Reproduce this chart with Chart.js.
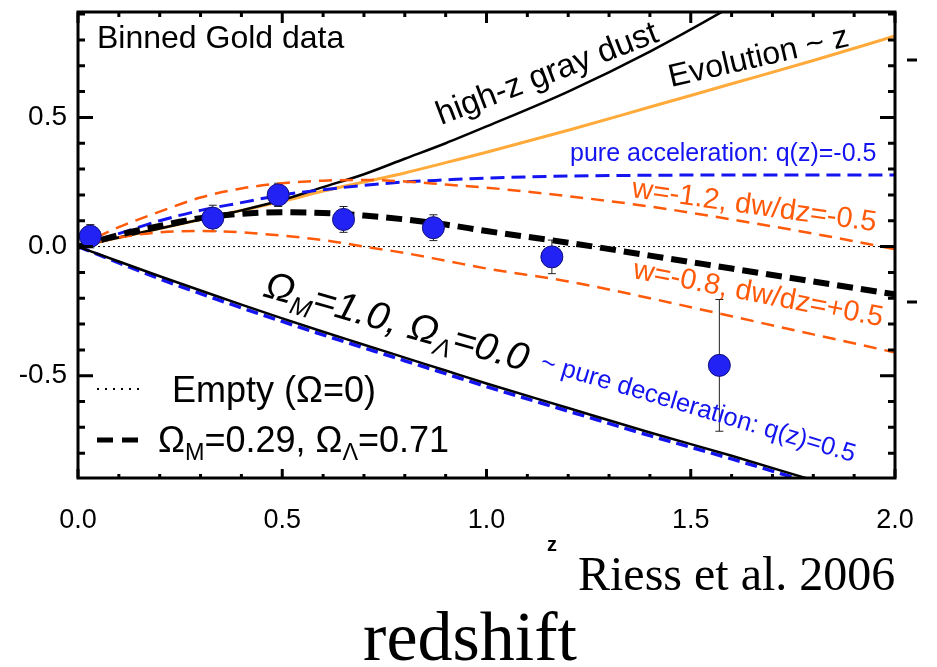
<!DOCTYPE html>
<html>
<head>
<meta charset="utf-8">
<title>Binned Gold data - Riess et al. 2006</title>
<script src="https://cdn.jsdelivr.net/npm/chart.js@4.4.1/dist/chart.umd.min.js"></script>
<style>
  html, body { margin: 0; padding: 0; background: #fff; }
  #hubble { display: block; }
</style>
</head>
<body>
<canvas id="hubble" width="937" height="667"></canvas>
<script>
// redshift grid shared by the model curves
const zGrid = [0, 0.1, 0.2, 0.3, 0.4, 0.5, 0.6, 0.7, 0.8, 0.9, 1.0, 1.2, 1.4, 1.6, 1.8, 2.0];

// model curves, delta distance modulus vs the empty universe
const grayDust  = [0, 0.035, 0.07, 0.105, 0.14, 0.18, 0.23, 0.28, 0.34, 0.40, 0.465, 0.60, 0.755, 0.93, 1.12, 1.33];
const evolution = [0, 0.035, 0.07, 0.105, 0.14, 0.175, 0.215, 0.25, 0.285, 0.325, 0.365, 0.45, 0.54, 0.63, 0.72, 0.815];
const pureAccel = [0, 0.05, 0.10, 0.14, 0.17, 0.20, 0.22, 0.237, 0.25, 0.258, 0.265, 0.273, 0.276, 0.277, 0.277, 0.277];
const wMinus12  = [0, 0.075, 0.135, 0.19, 0.225, 0.245, 0.255, 0.258, 0.252, 0.24, 0.228, 0.195, 0.155, 0.105, 0.05, -0.01];
const wMinus08  = [0, 0.035, 0.055, 0.06, 0.055, 0.042, 0.025, 0.0, -0.025, -0.055, -0.085, -0.135, -0.20, -0.27, -0.34, -0.41];
const lcdm      = [0, 0.045, 0.08, 0.11, 0.127, 0.133, 0.13, 0.12, 0.105, 0.085, 0.06, 0.015, -0.035, -0.085, -0.135, -0.185];
const omegaM1   = [0, -0.058, -0.115, -0.17, -0.225, -0.278, -0.33, -0.38, -0.43, -0.48, -0.53, -0.625, -0.72, -0.81, -0.905, -1.0];
const pureDecel = [0, -0.063, -0.125, -0.182, -0.237, -0.29, -0.342, -0.392, -0.442, -0.492, -0.542, -0.637, -0.732, -0.822, -0.917, -1.012];

// empty universe reference line
const emptyZ   = [0, 2.0];
const emptyVal = [0, 0];

// binned Gold sample
const binZ   = [0.03, 0.33, 0.49, 0.65, 0.87, 1.16, 1.57];
const binMu  = [0.04, 0.11, 0.20, 0.105, 0.073, -0.04, -0.46];
const binErr = [0.045, 0.05, 0.045, 0.05, 0.05, 0.065, 0.255];

// axes
const xTicks = [0.0, 0.5, 1.0, 1.5, 2.0];
const yTicks = [-0.5, 0.0, 0.5];

const SANS = '"Liberation Sans", Arial, Helvetica, sans-serif';
const SERIF = '"Liberation Serif", "Times New Roman", serif';
const ORANGE = '#ff5a0a';
const BLUE = '#1414f0';

const pts = (xs, ys) => xs.map((x, i) => ({ x: x, y: ys[i] }));

function curve(label, ys, color, width, dash) {
  return {
    label: label,
    data: pts(zGrid, ys),
    borderColor: color,
    borderWidth: width,
    borderDash: dash || [],
    pointRadius: 0,
    fill: false,
    cubicInterpolationMode: 'monotone'
  };
}

// no extra room for end labels, the frame must sit where the original is
function noPadding(scale) {
  scale.paddingTop = 0;
  scale.paddingBottom = 0;
  scale.paddingLeft = 0;
  scale.paddingRight = 0;
}

// text with optional subscripts, drawn rotated around its left baseline
function richText(ctx, parts, x, y, deg, color, size, family, style) {
  ctx.save();
  ctx.translate(x, y);
  ctx.rotate(deg * Math.PI / 180);
  ctx.fillStyle = color;
  ctx.textBaseline = 'alphabetic';
  ctx.textAlign = 'left';
  let cx = 0;
  parts.forEach(p => {
    const s = p.sub ? size * 0.65 : size;
    ctx.font = (style || '') + ' ' + s + 'px ' + family;
    ctx.fillText(p.t, cx, p.sub ? size * 0.22 : 0);
    cx += ctx.measureText(p.t).width;
  });
  ctx.restore();
}

const frame = {
  id: 'frame',
  beforeDatasetsDraw(chart) {
    const ctx = chart.ctx, xs = chart.scales.x, ys = chart.scales.y;
    ctx.save();
    ctx.strokeStyle = '#222';
    ctx.lineWidth = 1;
    binZ.forEach((z, i) => {
      const px = xs.getPixelForValue(z);
      const top = ys.getPixelForValue(binMu[i] + binErr[i]);
      const bot = ys.getPixelForValue(binMu[i] - binErr[i]);
      ctx.beginPath();
      ctx.moveTo(px, top); ctx.lineTo(px, bot);
      ctx.moveTo(px - 4, top); ctx.lineTo(px + 4, top);
      ctx.moveTo(px - 4, bot); ctx.lineTo(px + 4, bot);
      ctx.stroke();
    });
    ctx.restore();
  },
  afterDatasetsDraw(chart) {
    const ctx = chart.ctx, a = chart.chartArea;
    const xs = chart.scales.x, ys = chart.scales.y;
    ctx.save();
    ctx.strokeStyle = '#000';
    ctx.lineWidth = 3;
    ctx.strokeRect(a.left, a.top, a.right - a.left, a.bottom - a.top);
    ctx.beginPath();
    // minor / major ticks every 0.1, pointing inwards
    for (let i = 0; i <= 20; i++) {
      const px = xs.getPixelForValue(i / 10);
      const major = i % 5 === 0;
      ctx.moveTo(px, a.bottom); ctx.lineTo(px, a.bottom - (major ? 9 : 4));
      ctx.moveTo(px, a.top); ctx.lineTo(px, a.top + (major ? 11 : 5));
    }
    for (let i = -8; i <= 9; i++) {
      const py = ys.getPixelForValue(i / 10);
      const major = i % 5 === 0;
      ctx.moveTo(a.left, py); ctx.lineTo(a.left + (major ? 15 : 7), py);
      ctx.moveTo(a.right, py); ctx.lineTo(a.right - (major ? 15 : 7), py);
    }
    ctx.stroke();
    // stray marks right of the frame
    ctx.beginPath();
    ctx.moveTo(907, 60); ctx.lineTo(917, 60);
    ctx.moveTo(907, 302); ctx.lineTo(917, 302);
    ctx.stroke();
    ctx.restore();
  },
  afterDraw(chart) {
    const ctx = chart.ctx;
    richText(ctx, [{ t: 'Binned Gold data' }], 97, 48, 0, '#000', 32, SANS);
    richText(ctx, [{ t: 'high-z gray dust' }], 441, 125, -21, '#000', 33, SANS);
    richText(ctx, [{ t: 'Evolution ~ z' }], 671, 87, -13, '#000', 32, SANS);
    richText(ctx, [{ t: 'pure acceleration: q(z)=-0.5' }], 570, 161, 0, BLUE, 25, SANS);
    richText(ctx, [{ t: 'w=-1.2, dw/dz=-0.5' }], 631, 197, 8, ORANGE, 29, SANS);
    richText(ctx, [{ t: 'w=-0.8, dw/dz=+0.5' }], 632, 278, 11, ORANGE, 29, SANS);
    richText(ctx, [{ t: 'Ω' }, { t: 'M', sub: true }, { t: '=1.0, ' }, { t: 'Ω' }, { t: 'Λ', sub: true }, { t: '=0.0' }],
      262, 296, 16, '#000', 39, SANS, 'italic');
    richText(ctx, [{ t: '~ pure deceleration: q(z)=0.5' }], 539, 369, 16.5, BLUE, 25.5, SANS);

    // legend
    ctx.save();
    ctx.strokeStyle = '#000';
    ctx.lineWidth = 2;
    ctx.setLineDash([2, 6]);
    ctx.beginPath(); ctx.moveTo(97, 389); ctx.lineTo(140, 389); ctx.stroke();
    ctx.lineWidth = 5;
    ctx.setLineDash([16, 9]);
    ctx.beginPath(); ctx.moveTo(97, 440); ctx.lineTo(140, 440); ctx.stroke();
    ctx.restore();
    richText(ctx, [{ t: 'Empty (Ω=0)' }], 172, 402, 0, '#000', 36, SANS);
    richText(ctx, [{ t: 'Ω' }, { t: 'M', sub: true }, { t: '=0.29, ' }, { t: 'Ω' }, { t: 'Λ', sub: true }, { t: '=0.71' }],
      158, 452, 0, '#000', 36, SANS);

    // below the plot
    ctx.save();
    ctx.fillStyle = '#000';
    ctx.textAlign = 'center';
    ctx.font = 'bold 20px ' + SANS;
    ctx.fillText('z', 552, 551);
    ctx.textAlign = 'left';
    ctx.font = '48px ' + SERIF;
    ctx.fillText('Riess et al. 2006', 578, 590);
    ctx.textAlign = 'center';
    ctx.font = '70px ' + SERIF;
    ctx.fillText('redshift', 470, 660);
    ctx.restore();
  }
};

const chart = new Chart(document.getElementById('hubble'), {
  type: 'line',
  data: {
    datasets: [
      {
        label: 'Binned Gold data',
        data: pts(binZ, binMu),
        showLine: false,
        pointRadius: 11,
        pointBackgroundColor: '#2222f4',
        pointBorderColor: '#10107a',
        pointBorderWidth: 1
      },
      curve('Omega_M=0.29, Omega_L=0.71', lcdm, '#000', 6, [16, 8]),
      curve('w=-1.2, dw/dz=-0.5', wMinus12, ORANGE, 2.5, [13, 8]),
      curve('w=-0.8, dw/dz=+0.5', wMinus08, ORANGE, 2.5, [13, 8]),
      curve('pure acceleration', pureAccel, BLUE, 3, [14, 7]),
      curve('high-z gray dust', grayDust, '#000', 2.5),
      curve('Evolution ~ z', evolution, '#ffaa3a', 3),
      curve('Omega_M=1.0', omegaM1, '#000', 2.5),
      curve('pure deceleration', pureDecel, BLUE, 3.5, [12, 6]),
      {
        label: 'Empty',
        data: pts(emptyZ, emptyVal),
        borderColor: '#000',
        borderWidth: 1,
        borderDash: [2, 3],
        pointRadius: 0,
        fill: false
      }
    ]
  },
  options: {
    responsive: false,
    animation: false,
    layout: { padding: { top: 9, right: 42, left: 0, bottom: 0 } },
    plugins: {
      legend: { display: false },
      tooltip: { enabled: false }
    },
    scales: {
      x: {
        type: 'linear',
        min: 0,
        max: 2,
        afterFit(scale) { scale.height = 189; noPadding(scale); },
        afterBuildTicks(scale) { scale.ticks = xTicks.map(v => ({ value: v })); },
        grid: { display: false, drawTicks: false },
        border: { display: false },
        ticks: {
          autoSkip: false,
          maxRotation: 0,
          padding: 26,
          color: '#000',
          font: { family: SANS, size: 27 },
          callback: v => v.toFixed(1)
        }
      },
      y: {
        type: 'linear',
        min: -0.896,
        max: 0.908,
        afterFit(scale) { scale.width = 78; noPadding(scale); },
        afterBuildTicks(scale) { scale.ticks = yTicks.map(v => ({ value: v })); },
        grid: { display: false, drawTicks: false },
        border: { display: false },
        ticks: {
          autoSkip: false,
          padding: 11,
          color: '#000',
          font: { family: SANS, size: 28 },
          callback: v => v.toFixed(1)
        }
      }
    }
  },
  plugins: [frame]
});
</script>
</body>
</html>
